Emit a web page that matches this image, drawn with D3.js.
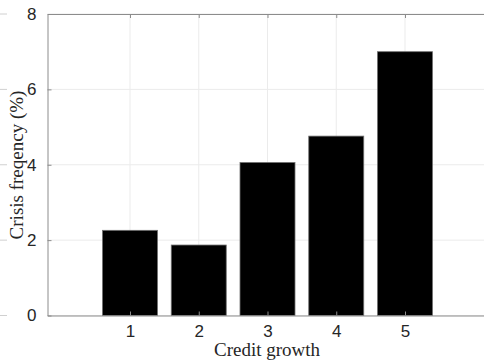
<!DOCTYPE html>
<html>
<head>
<meta charset="utf-8">
<script src="https://cdn.jsdelivr.net/npm/d3@7"></script>
<style>
  body { margin: 0; background: #fff; }
</style>
</head>
<body>
<div id="chart"></div>
<script>
// data
var categories = [1, 2, 3, 4, 5];
var frequency = [2.26, 1.87, 4.06, 4.76, 7.0];
var yTicks = [0, 2, 4, 6, 8];

var W = 484, H = 361;
var margin = {top: 14, left: 47.5, bottom: 45.5};

var svg = d3.select("#chart")
  .append("svg")
    .attr("width", W)
    .attr("height", H);

// x axis runs past the right edge (picture is cropped)
var x = d3.scaleLinear()
    .domain([-0.2, 6.2])
    .range([margin.left, margin.left + 6.4 * 68.75]);

var y = d3.scaleLinear()
    .domain([0, 8])
    .range([H - margin.bottom, margin.top]);

var grid = "#ebebeb", axisCol = "#8c8c8c";

// grid lines
svg.append("g")
  .selectAll("line")
  .data(categories)
  .enter().append("line")
    .attr("x1", function(d) { return x(d); })
    .attr("x2", function(d) { return x(d); })
    .attr("y1", y(0))
    .attr("y2", y(8))
    .attr("stroke", grid);

svg.append("g")
  .selectAll("line")
  .data(yTicks)
  .enter().append("line")
    .attr("x1", x(-0.2))
    .attr("x2", W)
    .attr("y1", function(d) { return y(d); })
    .attr("y2", function(d) { return y(d); })
    .attr("stroke", grid);

// short stubs at the left border
svg.append("g")
  .selectAll("line")
  .data(yTicks)
  .enter().append("line")
    .attr("x1", 0)
    .attr("x2", 7)
    .attr("y1", function(d) { return y(d); })
    .attr("y2", function(d) { return y(d); })
    .attr("stroke", "#d0d0d0");

// bars
var bw = x(0.8) - x(0);
svg.append("g")
  .selectAll("rect")
  .data(categories)
  .enter().append("rect")
    .attr("x", function(d) { return x(d) - bw / 2; })
    .attr("y", function(d, i) { return y(frequency[i]); })
    .attr("width", bw)
    .attr("height", function(d, i) { return y(0) - y(frequency[i]); })
    .attr("fill", "#000")
    .attr("stroke", "#707070")
    .attr("stroke-width", 0.8);

// axes
var xAxis = svg.append("g")
  .attr("transform", "translate(0," + y(0) + ")")
  .call(d3.axisBottom(x).tickValues(categories).tickFormat(d3.format("d"))
    .tickSizeInner(-4).tickSizeOuter(0).tickPadding(9));
xAxis.select(".domain").attr("stroke", axisCol);
xAxis.selectAll(".tick line").attr("stroke", axisCol);
xAxis.selectAll("text")
  .attr("fill", "#262626")
  .style("font-family", "Liberation Sans, Arial, sans-serif")
  .style("font-size", "17px");

var xTop = svg.append("g")
  .attr("transform", "translate(0," + y(8) + ")")
  .call(d3.axisTop(x).tickValues(categories).tickSizeInner(-4).tickSizeOuter(0).tickFormat(""));
xTop.select(".domain").attr("stroke", axisCol);
xTop.selectAll(".tick line").attr("stroke", axisCol);

var yAxis = svg.append("g")
  .attr("transform", "translate(" + x(-0.2) + ",0)")
  .call(d3.axisLeft(y).tickValues(yTicks).tickFormat(d3.format("d"))
    .tickSizeInner(-4).tickSizeOuter(0).tickPadding(11));
yAxis.select(".domain").attr("stroke", axisCol);
yAxis.selectAll(".tick line").attr("stroke", axisCol);
yAxis.selectAll("text")
  .attr("fill", "#262626")
  .style("font-family", "Liberation Sans, Arial, sans-serif")
  .style("font-size", "17px");

// axis labels
svg.append("text")
  .attr("x", 267)
  .attr("y", 356)
  .attr("text-anchor", "middle")
  .style("font-family", "Liberation Serif, DejaVu Serif, serif")
  .style("font-size", "19px")
  .attr("fill", "#262626")
  .text("Credit growth");

svg.append("text")
  .attr("transform", "translate(23,165) rotate(-90)")
  .attr("text-anchor", "middle")
  .style("font-family", "Liberation Serif, DejaVu Serif, serif")
  .style("font-size", "19px")
  .attr("fill", "#262626")
  .text("Crisis freqency (%)");
</script>
</body>
</html>
